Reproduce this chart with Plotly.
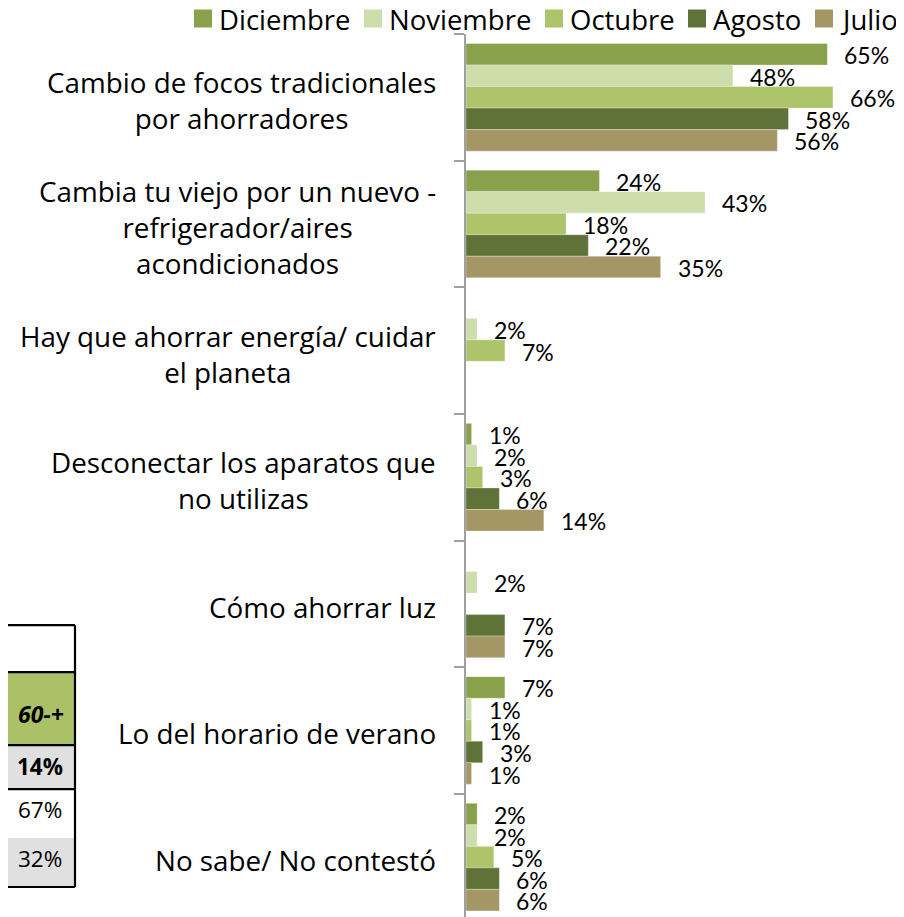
import plotly.graph_objects as go

categories = [
    "Cambio de focos tradicionales<br>por ahorradores",
    "Cambia tu viejo por un nuevo -<br>refrigerador/aires<br>acondicionados",
    "Hay que ahorrar energía/ cuidar<br>el planeta",
    "Desconectar los aparatos que<br>no utilizas",
    "Cómo ahorrar luz",
    "Lo del horario de verano",
    "No sabe/ No contestó",
]
series_names = ["Diciembre", "Noviembre", "Octubre", "Agosto", "Julio"]
diciembre = [65, 24, None, 1, None, 7, 2]
noviembre = [48, 43, 2, 2, 2, 1, 2]
octubre = [66, 18, 7, 3, None, 1, 5]
agosto = [58, 22, None, 6, 7, 3, 6]
julio = [56, 35, None, 14, 7, 1, 6]
series_values = [diciembre, noviembre, octubre, agosto, julio]
colors = ["#8AA14C", "#CEDDAC", "#ADC46A", "#5F7237", "#A59666"]

# partial table (cropped in the original)
table_header = "60-+"
table_values = ["14%", "67%", "32%"]

OFF = 8  # page body margin of the html page
W, H = 904, 917
ML, MT, MR, MB = 466 - OFF, 33.5 - OFF, OFF, OFF
PW, PH = W - ML - MR, H - MT - MB
px_per_unit = 5.56
band_px = 126.7
bar_w = 0.17

LBL_FONT = "Lato"
CAT_FONT = "Open Sans"

fig = go.Figure()
n = len(series_names)
for j, (name, vals, col) in enumerate(zip(series_names, series_values, colors)):
    ys = [i + (j - (n - 1) / 2) * bar_w for i in range(len(categories))]
    fig.add_trace(go.Bar(
        name=name, orientation="h", x=vals, y=ys, width=bar_w,
        marker=dict(color=col, line=dict(color="rgba(255,255,255,0.6)", width=0.5)),
        hoverinfo="x+name", showlegend=False,
    ))
    for v, y in zip(vals, ys):
        if v is None:
            continue
        fig.add_annotation(x=v, y=y, xref="x", yref="y", text=f"{v}%",
                           showarrow=False, xanchor="left", xshift=15, yshift=-1,
                           font=dict(family=LBL_FONT, size=23, color="black"))

for i, cat in enumerate(categories):
    fig.add_annotation(x=0, y=i, xref="paper", yref="y", text=cat, showarrow=False,
                       xanchor="right", align="center", xshift=-28, yshift=-3,
                       font=dict(family=CAT_FONT, size=27.8, color="black"))

def px(x):
    return (x - OFF - ML) / PW

def py(y):
    return 1 - (y - OFF - MT) / PH

shapes = []

# legend (manual layout, top right)
legend_square_left = [194, 364, 545, 688, 815]
for name, col, x0 in zip(series_names, colors, legend_square_left):
    shapes.append(dict(type="rect", xref="paper", yref="paper",
                       x0=px(x0), x1=px(x0 + 18), y0=py(9), y1=py(27),
                       fillcolor=col, line=dict(width=0)))
    fig.add_annotation(x=px(x0 + 23), y=py(19), xref="paper", yref="paper", text=name,
                       showarrow=False, xanchor="left", yanchor="middle",
                       font=dict(family=CAT_FONT, size=27.5, color="black"))

# table decoration
def rect(x0, y0, x1, y1, fill):
    shapes.append(dict(type="rect", xref="paper", yref="paper",
                       x0=px(x0), x1=px(x1), y0=py(y0), y1=py(y1),
                       fillcolor=fill, line=dict(width=0), layer="above"))

def line(x0, y0, x1, y1):
    shapes.append(dict(type="line", xref="paper", yref="paper",
                       x0=px(x0), x1=px(x1), y0=py(y0), y1=py(y1),
                       line=dict(width=2.2, color="black"), layer="above"))

rect(-10, 625, 75, 672, "white")
rect(-10, 672, 75, 745, "#ABC168")
rect(-10, 745, 75, 789, "#E0E0E0")
rect(-10, 789, 75, 838, "white")
rect(-10, 838, 75, 887, "#E0E0E0")
line(-10, 625, 75, 625)
line(75, 625, 75, 887)
line(-10, 672, 75, 672)
line(-10, 745, 75, 745)
line(-10, 789, 75, 789)
line(-10, 887, 75, 887)
line(3, 672, 3, 887)

tbl_font = "Open Sans"
fig.add_annotation(x=px(41), y=py(714), xref="paper", yref="paper", text=f"<b><i>{table_header}</i></b>",
                   showarrow=False, xanchor="center", yanchor="middle",
                   font=dict(family=tbl_font, size=23, color="black"))
for t, yc, bold in zip(table_values, [766, 809, 858], [True, False, False]):
    fig.add_annotation(x=px(40), y=py(yc), xref="paper", yref="paper",
                       text=f"<b>{t}</b>" if bold else t,
                       showarrow=False, xanchor="center", yanchor="middle",
                       font=dict(family=tbl_font, size=22.5, color="black"))

fig.update_layout(
    width=W, height=H,
    margin=dict(l=ML, r=MR, t=MT, b=MB, pad=0, autoexpand=False),
    plot_bgcolor="white", paper_bgcolor="white",
    barmode="overlay",
    showlegend=False,
    shapes=shapes,
    xaxis=dict(range=[0, PW / px_per_unit], visible=False, fixedrange=True),
    yaxis=dict(range=[-0.5 + PH / band_px, -0.5], tickmode="array",
               tickvals=[k - 0.5 for k in range(len(categories) + 1)],
               ticktext=[""] * (len(categories) + 1),
               ticks="outside", ticklen=10, tickwidth=2, tickcolor="#A0A0A0",
               showline=True, linecolor="#A0A0A0", linewidth=2, automargin=False,
               showgrid=False, zeroline=False, fixedrange=True),
)

fig.write_html("out.html")
